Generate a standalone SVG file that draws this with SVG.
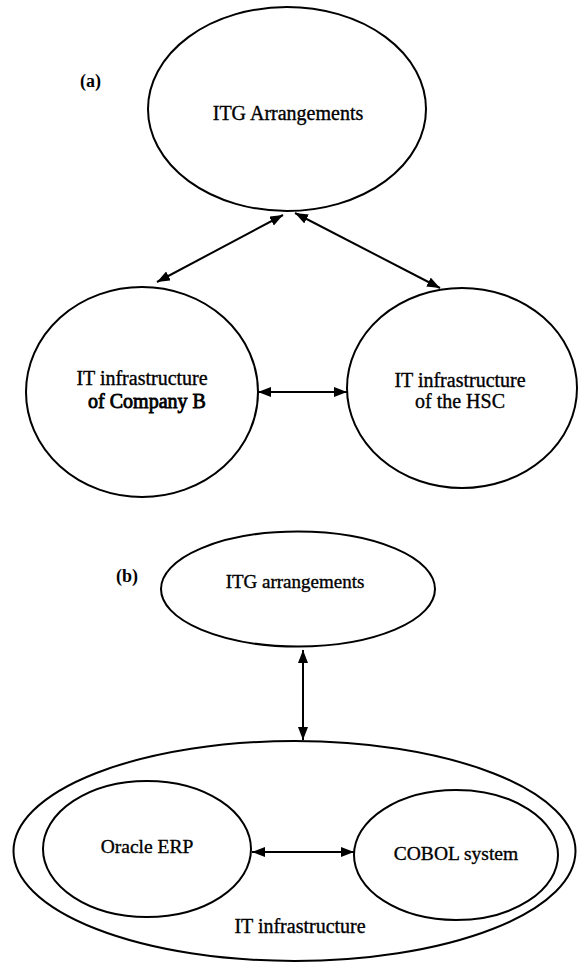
<svg xmlns="http://www.w3.org/2000/svg" width="578" height="964" viewBox="0 0 578 964">
<style>
.n{fill:#fff;stroke:#000;stroke-width:2}
.t{font-family:'Liberation Serif','DejaVu Serif','Times New Roman',serif;font-size:20px;fill:#000;stroke:#000;stroke-width:0.35;text-anchor:middle}
.lbl{font-family:'Liberation Serif','DejaVu Serif','Times New Roman',serif;font-size:18px;font-weight:bold;fill:#000}
.c{stroke:#000;stroke-width:2;fill:none;marker-start:url(#ah);marker-end:url(#ah)}
</style>
<defs>
<marker id="ah" markerUnits="userSpaceOnUse" markerWidth="14" markerHeight="11" refX="13" refY="5" orient="auto-start-reverse">
<path d="M0,0 L13,5 L0,10 z" fill="#000"/>
</marker>
</defs>
<rect width="578" height="964" fill="#fff"/>
<text class="lbl" x="80" y="87">(a)</text>
<text class="lbl" x="116" y="582">(b)</text>
<g id="itg-a">
<ellipse class="n" cx="287" cy="109" rx="139" ry="102"/>
<text class="t" x="288" y="120">ITG Arrangements</text>
</g>
<g id="it-company-b">
<ellipse class="n" cx="142" cy="392" rx="116" ry="105"/>
<text class="t" x="142" y="385">IT infrastructure</text>
<text class="t" x="147" y="408" style="stroke-width:0.8">of Company B</text>
</g>
<g id="it-hsc">
<ellipse class="n" cx="462" cy="388" rx="115" ry="100"/>
<text class="t" x="460" y="387">IT infrastructure</text>
<text class="t" x="460" y="408">of the HSC</text>
</g>
<g id="itg-b">
<ellipse class="n" cx="298" cy="589" rx="137" ry="57.5"/>
<text class="t" x="295" y="588" style="font-size:19px">ITG arrangements</text>
</g>
<g id="it-infra">
<ellipse class="n" cx="294.5" cy="851" rx="281" ry="110"/>
<text class="t" x="300" y="933">IT infrastructure</text>
</g>
<g id="oracle">
<ellipse class="n" cx="147" cy="849" rx="104" ry="68"/>
<text class="t" x="147" y="853" style="font-size:19.5px">Oracle ERP</text>
</g>
<g id="cobol">
<ellipse class="n" cx="456" cy="855" rx="102" ry="65"/>
<text class="t" x="456" y="860" style="font-size:19.5px">COBOL system</text>
</g>
<g id="connectors">
<line class="c" x1="157" y1="282" x2="283" y2="215"/>
<line class="c" x1="295" y1="213" x2="440" y2="288"/>
<line class="c" x1="258" y1="392" x2="347" y2="392"/>
<line class="c" x1="303" y1="650" x2="303" y2="740"/>
<line class="c" x1="252" y1="852" x2="354" y2="852"/>
</g>
</svg>
